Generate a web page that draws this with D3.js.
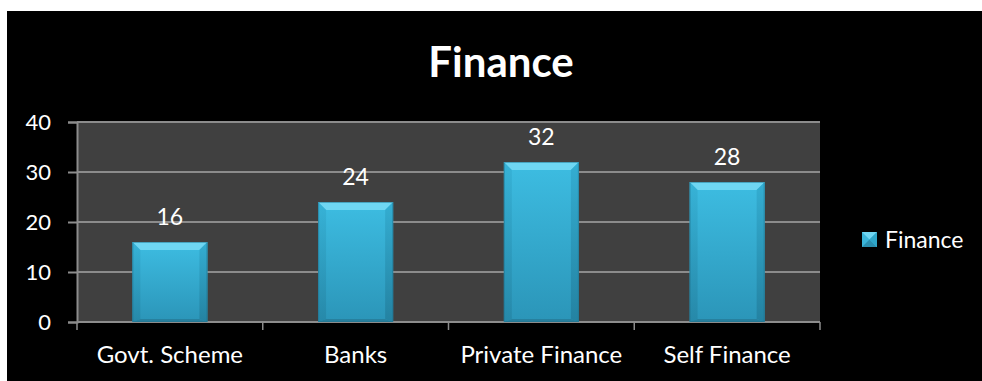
<!DOCTYPE html>
<html>
<head>
<meta charset="utf-8">
<script src="https://cdn.jsdelivr.net/npm/d3@7"></script>
<style>
  html, body { margin: 0; padding: 0; background: #fff; }
  svg { display: block; }
  text { font-family: Lato, "Open Sans", sans-serif; }
</style>
</head>
<body>
<svg id="chart" width="982" height="381"></svg>
<script>
const categories = ["Govt. Scheme", "Banks", "Private Finance", "Self Finance"];
const values = [16, 24, 32, 28];
const seriesName = "Finance";
const yTicks = [0, 10, 20, 30, 40];

const svg = d3.select("#chart");
const W = 982, H = 381;
const plot = { left: 77, right: 820, top: 122, bottom: 322 };

// chart background
svg.append("rect").attr("x", 7).attr("y", 11).attr("width", W - 7).attr("height", H - 11).attr("fill", "#000");

const x = d3.scaleBand().domain(categories).range([plot.left, plot.right]).paddingInner(0.596).paddingOuter(0.298);
const y = d3.scaleLinear().domain([0, 40]).range([plot.bottom, plot.top]);

const defs = svg.append("defs");
const face = defs.append("linearGradient").attr("id", "face").attr("x1", 0).attr("y1", 0).attr("x2", 0).attr("y2", 1);
face.append("stop").attr("offset", 0).attr("stop-color", "#3dbde2");
face.append("stop").attr("offset", 1).attr("stop-color", "#2b95b8");
const side = defs.append("linearGradient").attr("id", "side").attr("x1", 0).attr("y1", 0).attr("x2", 0).attr("y2", 1);
side.append("stop").attr("offset", 0).attr("stop-color", "#33acd0");
side.append("stop").attr("offset", 1).attr("stop-color", "#23809f");

// plot area
svg.append("rect").attr("x", plot.left).attr("y", plot.top)
  .attr("width", plot.right - plot.left).attr("height", plot.bottom - plot.top).attr("fill", "#404040");

// gridlines
svg.append("g").selectAll("line").data(yTicks.filter(d => d > 0)).join("line")
  .attr("x1", plot.left).attr("x2", plot.right)
  .attr("y1", d => y(d)).attr("y2", d => y(d))
  .attr("stroke", "#8c8c8c").attr("stroke-width", 2);

// y axis
const yAxis = svg.append("g").attr("transform", `translate(${plot.left},0)`)
  .call(d3.axisLeft(y).tickValues(yTicks).tickSize(9).tickPadding(17));
yAxis.select(".domain").attr("stroke", "#8c8c8c").attr("stroke-width", 2);
yAxis.selectAll(".tick line").attr("stroke", "#8c8c8c").attr("stroke-width", 2);
yAxis.selectAll(".tick text").attr("fill", "#fff").attr("font-size", 22).attr("font-family", "Lato, sans-serif").attr("dy", "0.35em");

// x axis with ticks on category boundaries
svg.append("line").attr("x1", plot.left).attr("x2", plot.right)
  .attr("y1", plot.bottom).attr("y2", plot.bottom).attr("stroke", "#8c8c8c").attr("stroke-width", 2);
const bounds = categories.map(c => x(c) - x.step() * x.paddingInner() / 2);
bounds.push(plot.right);
svg.append("g").selectAll("line").data(bounds).join("line")
  .attr("x1", d => d).attr("x2", d => d)
  .attr("y1", plot.bottom).attr("y2", plot.bottom + 8)
  .attr("stroke", "#8c8c8c").attr("stroke-width", 1.5);
svg.append("g").selectAll("text").data(categories).join("text")
  .attr("x", d => x(d) + x.bandwidth() / 2).attr("y", 363)
  .attr("text-anchor", "middle").attr("fill", "#fff").attr("font-size", 24)
  .text(d => d);

// bevelled bars
const bevel = 8;
const bars = svg.append("g").selectAll("g").data(categories.map((c, i) => ({ c, v: values[i] }))).join("g");
bars.each(function(d) {
  const g = d3.select(this);
  const x0 = x(d.c), x1 = x0 + x.bandwidth(), y0 = y(d.v), y1 = y(0);
  g.append("rect").attr("x", x0).attr("y", y0).attr("width", x1 - x0).attr("height", y1 - y0).attr("fill", "url(#face)");
  // top bevel
  g.append("path").attr("d", `M${x0},${y0}L${x1},${y0}L${x1 - bevel},${y0 + bevel}L${x0 + bevel},${y0 + bevel}Z`).attr("fill", "#6fd6f2");
  // left bevel
  g.append("path").attr("d", `M${x0},${y0}L${x0 + bevel},${y0 + bevel}L${x0 + bevel},${y1 - 3}L${x0},${y1}Z`).attr("fill", "url(#side)").attr("opacity", 0.6);
  // right bevel
  g.append("path").attr("d", `M${x1},${y0}L${x1 - bevel},${y0 + bevel}L${x1 - bevel},${y1 - 3}L${x1},${y1}Z`).attr("fill", "url(#side)").attr("opacity", 0.9);
  // bottom bevel
  g.append("path").attr("d", `M${x0},${y1}L${x0 + bevel},${y1 - 3}L${x1 - bevel},${y1 - 3}L${x1},${y1}Z`).attr("fill", "#27809e");
  g.append("rect").attr("x", x0 + 0.5).attr("y", y0 + 0.5).attr("width", x1 - x0 - 1).attr("height", y1 - y0 - 1)
    .attr("fill", "none").attr("stroke", "#1f6f8a").attr("stroke-width", 1).attr("opacity", 0.5);
  g.append("text").attr("x", (x0 + x1) / 2).attr("y", y0 - 17)
    .attr("text-anchor", "middle").attr("fill", "#fff").attr("font-size", 23).text(d.v);
});

// title
svg.append("text").attr("x", 501).attr("y", 77).attr("text-anchor", "middle")
  .attr("fill", "#fff").attr("font-size", 42).attr("font-weight", "bold").text(seriesName);

// legend
const lg = svg.append("g").attr("transform", "translate(862,232)");
const s = 15;
lg.append("rect").attr("width", s).attr("height", s).attr("fill", "#3ab5da");
lg.append("path").attr("d", `M0,0L${s},0L${s / 2},${s / 2}Z`).attr("fill", "#6fd6f2");
lg.append("path").attr("d", `M0,${s}L${s},${s}L${s / 2},${s / 2}Z`).attr("fill", "#2a8fb0");
lg.append("path").attr("d", `M${s},0L${s},${s}L${s / 2},${s / 2}Z`).attr("fill", "#2fa6c9");
lg.append("text").attr("x", 23).attr("y", s / 2).attr("dy", "0.35em")
  .attr("fill", "#fff").attr("font-size", 23).text(seriesName);
</script>
</body>
</html>
